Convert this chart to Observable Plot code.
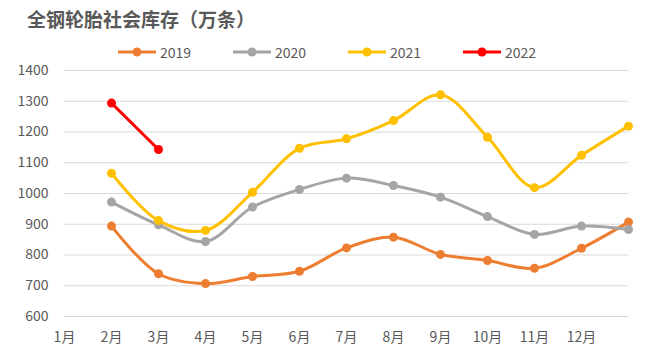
<!DOCTYPE html>
<html><head><meta charset="utf-8">
<script src="https://cdn.jsdelivr.net/npm/d3@7"></script>
<script src="https://cdn.jsdelivr.net/npm/@observablehq/plot@0.6"></script>
<style>
body{margin:0;background:#fff;font-family:"Noto Sans CJK SC","Noto Sans",sans-serif;}
#wrap{position:relative;width:661px;height:359px;overflow:hidden;}
#title{position:absolute;left:27px;top:5px;font-size:19px;font-weight:bold;color:#595959;line-height:28px;}
#legend{position:absolute;top:42px;left:117px;display:flex;}
.item{width:115px;display:flex;align-items:center;font-size:14px;color:#595959;line-height:20px;}
.item svg{margin-right:3px;}
#chart{position:absolute;top:60px;left:0;}
</style>
</head><body>
<div id="wrap">
  <div id="title">全钢轮胎社会库存（万条）</div>
  <div id="legend"></div>
  <div id="chart"></div>
</div>
<script>
const titleText = "全钢轮胎社会库存（万条）";
const seriesNames = ["2019", "2020", "2021", "2022"];
const seriesColors = ["#ED7D31", "#A5A5A5", "#FFC000", "#FF0000"];
const periods = [2, 3, 4, 5, 6, 7, 8, 9, 10, 11, 12, 13];
const tickMonths = [1, 2, 3, 4, 5, 6, 7, 8, 9, 10, 11, 12];
const yTicks = [600, 700, 800, 900, 1000, 1100, 1200, 1300, 1400];
const v2019 = [894, 739, 707, 730, 747, 823, 858, 802, 782, 757, 822, 907];
const v2020 = [972, 898, 844, 956, 1013, 1050, 1026, 988, 925, 867, 894, 883];
const v2021 = [1066, 912, 880, 1004, 1147, 1178, 1237, 1321, 1183, 1019, 1124, 1219];
const v2022 = [1294, 1143];

const seriesValues = [v2019, v2020, v2021, v2022];
const rows = [];
seriesNames.forEach((name, si) => {
  seriesValues[si].forEach((v, i) => rows.push({series: name, x: periods[i], y: v}));
});

// legend
const legend = document.getElementById("legend");
seriesNames.forEach((name, i) => {
  const item = document.createElement("div");
  item.className = "item";
  item.innerHTML = `<svg width="40" height="12"><line x1="1" y1="6" x2="39" y2="6" stroke="${seriesColors[i]}" stroke-width="3"/><circle cx="20" cy="6" r="4.5" fill="${seriesColors[i]}"/></svg><span>${name}</span>`;
  legend.appendChild(item);
});

const chart = Plot.plot({
  width: 661,
  height: 299,
  marginTop: 10,
  marginBottom: 43,
  marginLeft: 64,
  marginRight: 33,
  style: {fontFamily: '"Noto Sans CJK SC","Noto Sans",sans-serif', fontSize: "14px", color: "#595959", background: "#fff"},
  x: {domain: [1, 13], label: null},
  y: {domain: [600, 1400], label: null},
  color: {domain: seriesNames, range: seriesColors},
  marks: [
    Plot.gridY(yTicks, {stroke: "#d9d9d9", strokeOpacity: 1, strokeWidth: 1}),
    Plot.axisX({ticks: tickMonths, tickFormat: d => d + "月", tickSize: 0, tickPadding: 16, fill: "#595959", label: null}),
    Plot.axisY({ticks: yTicks, tickFormat: d => String(d), tickSize: 0, tickPadding: 16, fill: "#595959", label: null}),
    ...seriesNames.map(name => [
      Plot.line(rows.filter(r => r.series === name), {x: "x", y: "y", stroke: "series", strokeWidth: 3, curve: "catmull-rom"}),
      Plot.dot(rows.filter(r => r.series === name), {x: "x", y: "y", fill: "series", r: 4.5})
    ]).flat()
  ]
});
document.getElementById("chart").appendChild(chart);
</script>
</body></html>
